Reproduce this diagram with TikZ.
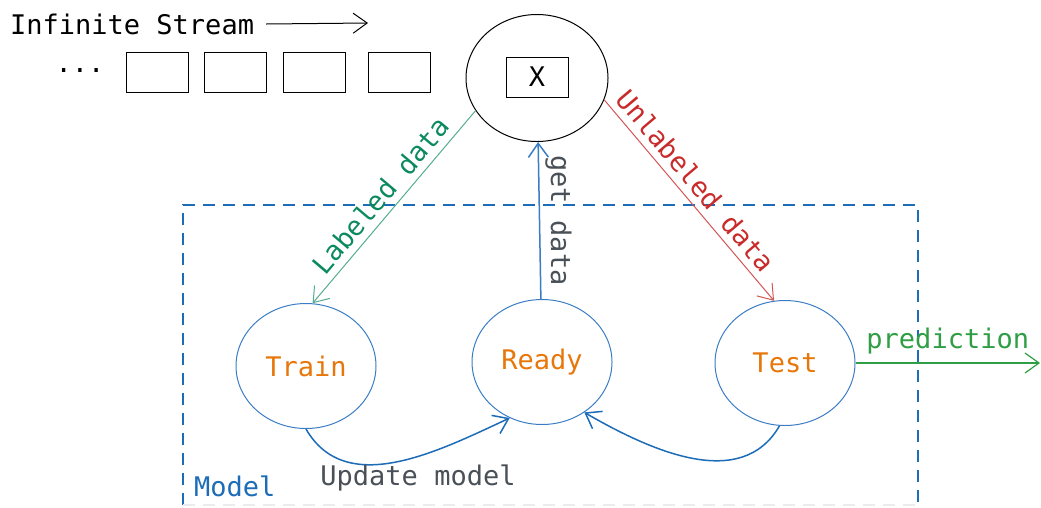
\documentclass[tikz,border=0pt]{standalone}
\usepackage{fontspec}
\setmainfont{DejaVu Sans Mono}
\usetikzlibrary{arrows.meta,shapes.geometric,positioning}
\definecolor{sketchblue}{HTML}{3B7DC4}
\definecolor{boxblue}{HTML}{1C6CB8}
\definecolor{stateorange}{HTML}{E8770B}
\definecolor{notegray}{HTML}{495057}
\definecolor{labgreen}{HTML}{0B8A5E}
\definecolor{predgreen}{HTML}{2F9E44}
\definecolor{unlabred}{HTML}{C92A2A}

\begin{document}
\begin{tikzpicture}[x=1pt,y=-1pt,
    font=\fontsize{27}{32}\selectfont,
    >={Straight Barb[length=14pt,width=20pt]},
    item/.style={draw,line width=1pt,minimum width=62pt,minimum height=40pt,inner sep=0pt},
    state/.style={ellipse,draw=sketchblue,line width=1pt,text=stateorange,
      minimum width=140pt,minimum height=125pt,inner sep=0pt}]
  \useasboundingbox (0,0) rectangle (1041,507);

  % stream of samples
  \node[anchor=west,inner sep=0pt] (stream) at (10,24) {Infinite Stream};
  \coordinate (streamend) at (368,23);
  \draw[->,line width=1pt] ([xshift=12pt]stream.east) -- (streamend);
  \node (dots) at (80,70) {...};
  \node[item] (s1) at (157,72) {};
  \node[item] (s2) at (235,72) {};
  \node[item] (s3) at (314,72) {};
  \node[item] (s4) at (399,72) {};

  % current sample
  \node[ellipse,draw,line width=1pt,minimum width=142pt,minimum height=127pt,inner sep=0pt] (x) at (537,78) {};
  \node[item] (xbox) at (537,77) {X};

  % model box
  \draw[boxblue,line width=2pt,dash pattern=on 12pt off 8pt] (183,505) -- (183,205) -- (918,205) -- (918,505);
  \draw[black!8,line width=1.5pt,dash pattern=on 12pt off 8pt] (183,505) -- (918,505);
  \node[anchor=west,inner sep=0pt,text=boxblue] (model) at (194,486) {Model};

  % states
  \node[state] (train) at (306,366) {Train};
  \node[state] (ready) at (542,362) {Ready};
  \node[state] (test) at (785,363) {Test};

  \draw[<-,labgreen!70,line width=1pt] (train.84) -- node[sloped,above,text=labgreen,inner sep=7pt] {Labeled data} (x.208);
  \draw[->,sketchblue,line width=1.5pt] (ready) -- node[rotate=-90,anchor=south,text=notegray,inner sep=5pt] {get data} (x);
  \draw[->,unlabred!80,line width=1pt] (x.-18) -- node[pos=0.46,sloped,above,text=unlabred,inner sep=7pt] {Unlabeled data} (test.100);

  \coordinate (out) at (1040,363);
  \draw[->,predgreen,line width=1.2pt] (test) -- node[above,inner sep=8pt] {prediction} (out);

  % model updates
  \draw[->,boxblue,line width=1.5pt] (train.south) to[out=-60,in=205] (ready.240);
  \draw[->,boxblue,line width=1.5pt] (test.265) to[out=-120,in=-30] (ready.-50);
  \node[text=notegray] (update) at (418,478) {Update model};
\end{tikzpicture}
\end{document}
